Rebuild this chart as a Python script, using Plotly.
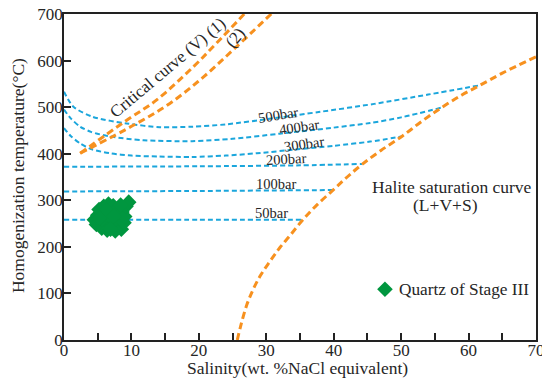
import plotly.graph_objects as go

# ---- data ----
bar500_x = [0, 1.4, 4.3, 9.3, 14.2, 19, 24, 31, 38, 46, 54, 61.7]
bar500_y = [533, 501, 479, 465, 457, 458, 463, 476, 490, 507, 527, 547]
bar400_x = [0, 1, 2.4, 4, 6.8, 11.8, 19, 25, 32, 40, 45.4, 50, 56]
bar400_y = [495, 476, 458, 447, 437, 429, 427, 432, 443, 456, 466, 478, 499]
bar300_x = [0, 1, 2.4, 4, 6.8, 10, 14, 19, 24, 28.6, 35, 40, 45.4, 50.1]
bar300_y = [455, 438, 422, 410, 401, 396, 394, 393, 396, 401, 410, 417, 426, 437]
bar200_x = [0, 20, 35, 44.2]
bar200_y = [372, 373, 375, 378]
bar100_x = [0, 20, 39.9]
bar100_y = [319, 320, 322]
bar50_x = [0, 20, 35.3]
bar50_y = [258, 258, 258]

crit1_x = [2.4, 9.3, 13.7, 19.2, 22.6, 26.8]
crit1_y = [401, 472, 515, 587, 637, 701]
crit2_x = [2.4, 10.8, 15.7, 20.7, 25.6, 30.8]
crit2_y = [401, 465, 508, 565, 630, 701]

halite_x = [25.7, 26.2, 27.1, 28.1, 29.2, 30.5, 32.0, 33.5, 35.3, 37.3, 39.9, 42.0, 44.2,
            47.0, 50.1, 53.0, 56.0, 59.0, 61.7, 65.0, 70.0]
halite_y = [0, 30, 75, 110, 140, 168, 198, 224, 256, 287, 322, 350, 377,
            407, 437, 469, 499, 526, 547, 573, 608]

quartz_sal = [4.5, 4.8, 5.0, 5.2, 5.5, 5.6, 5.9, 6.0, 6.2, 6.4, 6.6, 6.8, 7.0, 7.0,
              7.3, 7.5, 7.6, 7.8, 8.0, 8.1, 8.3, 8.5, 8.6, 8.9, 9.0, 9.2, 9.6, 5.3,
              6.3, 7.4, 8.4, 6.9]
quartz_T = [258, 248, 268, 280, 255, 240, 287, 270, 250, 236, 292, 262, 278, 244,
            288, 255, 234, 270, 282, 245, 260, 238, 275, 252, 265, 287, 296, 262,
            280, 266, 290, 238]

isobar_labels = ["500bar", "400bar", "300bar", "200bar", "100bar", "50bar"]
label_x = [31.7, 34.8, 35.6, 32.9, 31.4, 30.7]
label_y = [484, 458, 420, 388, 336, 272]
label_angle = [-9, -8, -8, -3, 0, 0]

xticks = [0, 5, 10, 15, 20, 25, 30, 35, 40, 45, 50, 55, 60, 65, 70]
xticktext = ["0", "", "10", "", "20", "", "30", "", "40", "", "50", "", "60", "", "70"]

BLUE = "#1ba6dc"
ORANGE = "#f7911f"
GREEN = "#00963f"
FONT = "Liberation Serif"
TXT = "#262626"

fig = go.Figure()
for xs, ys in [(bar500_x, bar500_y), (bar400_x, bar400_y), (bar300_x, bar300_y),
               (bar200_x, bar200_y), (bar100_x, bar100_y), (bar50_x, bar50_y)]:
    fig.add_trace(go.Scatter(x=xs, y=ys, mode="lines", showlegend=False,
                             line=dict(color=BLUE, width=2, dash="5px,3px", shape="spline", smoothing=0.8),
                             hoverinfo="skip"))
for xs, ys in [(crit1_x, crit1_y), (crit2_x, crit2_y), (halite_x, halite_y)]:
    fig.add_trace(go.Scatter(x=xs, y=ys, mode="lines", showlegend=False,
                             line=dict(color=ORANGE, width=3, dash="7px,4px", shape="spline", smoothing=1),
                             hoverinfo="skip"))
fig.add_trace(go.Scatter(x=quartz_sal, y=quartz_T, mode="markers", name="Quartz of Stage III",
                         marker=dict(symbol="diamond", size=12, color=GREEN, line=dict(width=0)),
                         showlegend=False))

anns = []
for t, x, y, a in zip(isobar_labels, label_x, label_y, label_angle):
    anns.append(dict(x=x, y=y, text=t, showarrow=False, textangle=a,
                     font=dict(family=FONT, size=14.5, color=TXT)))
anns.append(dict(x=15.4, y=586, text="Critical curve (V) (1)", showarrow=False, textangle=-40,
                 font=dict(family=FONT, size=17, color=TXT)))
anns.append(dict(x=25.4, y=650, text="(2)", showarrow=False, textangle=-50,
                 font=dict(family=FONT, size=17, color=TXT)))
anns.append(dict(x=57.6, y=329, text="Halite saturation curve", showarrow=False,
                 font=dict(family=FONT, size=17.5, color=TXT)))
anns.append(dict(x=56.6, y=289, text="(L+V+S)", showarrow=False,
                 font=dict(family=FONT, size=17.5, color=TXT)))
anns.append(dict(x=49.4, y=109, text="Quartz of Stage III", showarrow=False, xanchor="left",
                 font=dict(family=FONT, size=17.3, color=TXT)))
anns.append(dict(x=0.494, y=-0.086, xref="paper", yref="paper", text="Salinity(wt. %NaCl equivalent)",
                 xanchor="center", yanchor="middle",
                 showarrow=False, font=dict(family=FONT, size=17.5, color=TXT)))
anns.append(dict(x=-0.0975, y=0.506, xref="paper", yref="paper", text="Homogenization temperature(°C)",
                 xanchor="center", yanchor="middle",
                 showarrow=False, textangle=-90, font=dict(family=FONT, size=17.5, color=TXT)))
fig.add_trace(go.Scatter(x=[47.6], y=[109], mode="markers", showlegend=False,
                         marker=dict(symbol="diamond", size=12, color=GREEN)))

# page body has an 8px margin, so the figure is shrunk by 8px and margins shifted
fig.update_layout(
    width=542, height=380,
    margin=dict(l=56, r=14, t=6, b=48),
    paper_bgcolor="white", plot_bgcolor="white",
    annotations=anns,
    font=dict(family=FONT, size=17, color=TXT),
)
fig.update_xaxes(range=[0, 70], tickvals=xticks, ticktext=xticktext, ticks="inside", ticklen=7,
                 tickwidth=1.5, tickcolor="#222", showline=True, linecolor="#222", linewidth=1.5,
                 mirror=True, showgrid=False, zeroline=False, automargin=False, ticklabelstandoff=-6,
                 ticklabeloverflow="allow",
                 tickfont=dict(family=FONT, size=17, color=TXT))
fig.update_yaxes(range=[0, 700], dtick=100, ticks="inside", ticklen=7, tickwidth=1.5, tickcolor="#222",
                 showline=True, linecolor="#222", linewidth=1.5, mirror=True, showgrid=False,
                 zeroline=False, automargin=False, ticklabelstandoff=-4, ticklabeloverflow="allow",
                 tickfont=dict(family=FONT, size=17, color=TXT))

fig.write_html("out.html")
